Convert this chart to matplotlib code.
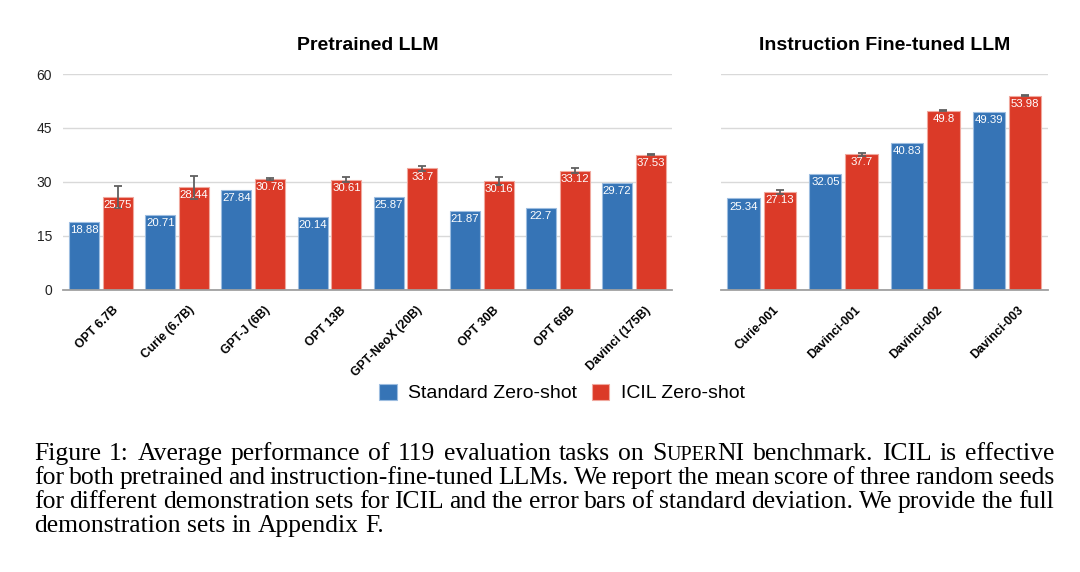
import matplotlib
matplotlib.use("Agg")
import matplotlib.pyplot as plt
import numpy as np
from matplotlib.transforms import ScaledTranslation
from matplotlib.patches import Patch

# ---------------- data ----------------
pre_models = ["OPT 6.7B", "Curie (6.7B)", "GPT-J (6B)", "OPT 13B",
              "GPT-NeoX (20B)", "OPT 30B", "OPT 66B", "Davinci (175B)"]
pre_standard = [18.88, 20.71, 27.84, 20.14, 25.87, 21.87, 22.7, 29.72]
pre_icil = [25.75, 28.44, 30.78, 30.61, 33.7, 30.16, 33.12, 37.53]
pre_icil_err = [3.0, 3.2, 0.4, 0.8, 0.7, 1.2, 0.6, 0.1]

ift_models = ["Curie-001", "Davinci-001", "Davinci-002", "Davinci-003"]
ift_standard = [25.34, 32.05, 40.83, 49.39]
ift_icil = [27.13, 37.7, 49.8, 53.98]
ift_icil_err = [0.55, 0.4, 0.1, 0.1]

yticks = [0, 15, 30, 45, 60]
series_names = ["Standard Zero-shot", "ICIL Zero-shot"]
titles = ["Pretrained LLM", "Instruction Fine-tuned LLM"]

caption_lines = [
    [["Figure"], ["1:"], ["Average"], ["performance"], ["of"], ["119"], ["evaluation"],
     ["tasks"], ["on"], [("S", 1.0), ("UPER", 0.78), ("NI", 1.0)], ["benchmark."],
     ["ICIL"], ["is"], ["effective"]],
    "for both pretrained and instruction-fine-tuned LLMs. We report the mean score of three random seeds",
    "for different demonstration sets for ICIL and the error bars of standard deviation. We provide the full",
    "demonstration sets in Appendix F.",
]

# ---------------- style ----------------
BLUE = "#3674B6"
RED = "#DB3A28"
BLUE_EDGE = "#9dbde0"
RED_EDGE = "#f0a89e"
GRID = "#d9d9d9"
SANS = ["Liberation Sans", "DejaVu Sans"]
SERIF = ["Liberation Serif", "DejaVu Serif"]
plt.rcParams["font.family"] = SANS

W, H, DPI = 1080, 572, 100
fig = plt.figure(figsize=(W / DPI, H / DPI), dpi=DPI)

def px_axes(x0, x1, ytop, ybot):
    return fig.add_axes([x0 / W, 1 - ybot / H, (x1 - x0) / W, (ybot - ytop) / H])

ax1 = px_axes(63, 672, 74, 289.5)
ax2 = px_axes(720.7, 1048, 74, 289.5)

bw = 0.395
off = 0.222

def draw(ax, models, std, icil, err, title, show_y):
    x = np.arange(len(models))
    ax.bar(x - off, std, bw, color=BLUE, edgecolor=BLUE_EDGE, linewidth=0.8, zorder=2)
    ax.bar(x + off, icil, bw, color=RED, edgecolor=RED_EDGE, linewidth=0.8, zorder=2)
    ax.errorbar(x + off, icil, yerr=err, fmt="none", ecolor="#606060",
                elinewidth=1.3, capsize=3, capthick=1.3, zorder=3)
    for xi, v in zip(x - off, std):
        ax.annotate(f"{v:g}", (xi, v), xytext=(0, -2.2), textcoords="offset points",
                    ha="center", va="top", color="white", fontsize=8.2, zorder=4)
    for xi, v in zip(x + off, icil):
        ax.annotate(f"{v:g}", (xi, v), xytext=(0, -2.2), textcoords="offset points",
                    ha="center", va="top", color="white", fontsize=8.2, zorder=4)
    ax.set_xlim(-0.5, len(models) - 0.5)
    ax.set_ylim(0, 60)
    ax.set_yticks(yticks)
    ax.yaxis.grid(True, color=GRID, linewidth=1.0, zorder=0)
    ax.set_axisbelow(True)
    for s in ["top", "right", "left"]:
        ax.spines[s].set_visible(False)
    ax.spines["bottom"].set_color("#a0a0a0")
    ax.spines["bottom"].set_linewidth(1.3)
    ax.spines["bottom"].set_zorder(5)
    ax.tick_params(axis="y", length=0, pad=8, labelsize=10, labelcolor="#222222")
    if not show_y:
        ax.tick_params(axis="y", labelleft=False)
    ax.set_xticks(x)
    ax.set_xticklabels(models, rotation=45, ha="right", va="center",
                       rotation_mode="anchor", fontweight="bold", fontsize=8.8)
    ax.tick_params(axis="x", length=0, pad=13.5)
    shift = ScaledTranslation(15 / DPI, 0, fig.dpi_scale_trans)
    for lab in ax.get_xticklabels():
        lab.set_transform(lab.get_transform() + shift)
    ax.set_title(title, fontweight="bold", fontsize=14, pad=17)

draw(ax1, pre_models, pre_standard, pre_icil, pre_icil_err, titles[0], True)
draw(ax2, ift_models, ift_standard, ift_icil, ift_icil_err, titles[1], False)

handles = [Patch(facecolor=BLUE, edgecolor=BLUE_EDGE, linewidth=0.8),
           Patch(facecolor=RED, edgecolor=RED_EDGE, linewidth=0.8)]
fig.legend(handles, series_names, loc="center", bbox_to_anchor=(562 / W, 1 - 393 / H),
           ncol=2, frameon=False, fontsize=14, handlelength=0.91, handleheight=0.93,
           handletextpad=0.59, columnspacing=0.74, borderaxespad=0, borderpad=0)

# ---------------- caption (justified) ----------------
fig.canvas.draw()
renderer = fig.canvas.get_renderer()

def measure(s, size):
    t = fig.text(0, 0, s, fontsize=size, family=SERIF)
    w = t.get_window_extent(renderer).width
    t.remove()
    return w

def to_words(line):
    if isinstance(line, str):
        return [[(w, 1.0)] for w in line.split(" ")]
    out = []
    for w in line:
        if isinstance(w[0], str) and len(w) == 1:
            out.append([(w[0], 1.0)])
        else:
            out.append(list(w))
    return out

words_lines = [to_words(l) for l in caption_lines]

def word_width(word, size):
    return sum(measure(seg, size * sc) for seg, sc in word)

base = 16.0
last = words_lines[-1]
nat = sum(word_width(w, base) for w in last) + 0.25 * base * DPI / 72 * (len(last) - 1)
size = base * 350 / nat
LEFT, RIGHT = 34, 1054
baselines = [460, 484, 508, 532]
for li, (words, yb) in enumerate(zip(words_lines, baselines)):
    widths = [word_width(w, size) for w in words]
    sp_nat = 0.25 * size * DPI / 72
    if li < len(words_lines) - 1:
        sp = (RIGHT - LEFT - sum(widths)) / (len(words) - 1)
    else:
        sp = sp_nat
    xcur = LEFT
    for w, ww in zip(words, widths):
        xs = xcur
        for seg, sc in w:
            fig.text(xs / W, 1 - yb / H, seg, fontsize=size * sc, family=SERIF,
                     ha="left", va="baseline", color="black")
            xs += measure(seg, size * sc)
        xcur += ww + sp

fig.savefig("out.png", dpi=DPI)
